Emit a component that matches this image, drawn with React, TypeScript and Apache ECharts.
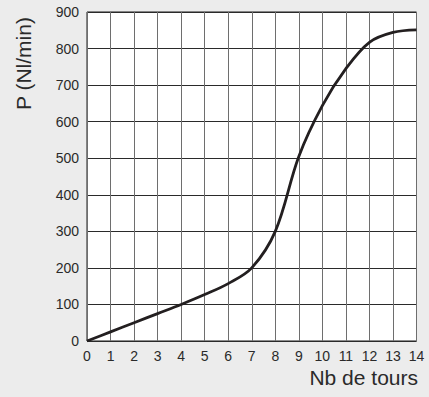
import React, { useEffect, useRef } from "react";
import * as echarts from "echarts";

const xTicks = [0, 1, 2, 3, 4, 5, 6, 7, 8, 9, 10, 11, 12, 13, 14];
const turns = [0, 1, 2, 3, 4, 5, 6, 7, 8, 9, 10, 11, 12, 13, 14];
const flow = [0, 25, 50, 75, 100, 127, 157, 200, 300, 505, 644, 745, 817, 844, 851];

export default function App() {
  const ref = useRef<HTMLDivElement>(null);
  useEffect(() => {
    document.body.style.margin = "0";
    const chart = echarts.init(ref.current!, null, { renderer: "svg" });
    const font = "Liberation Sans";
    chart.setOption({
      animation: false,
      backgroundColor: "#ececec",
      grid: {
        left: 87,
        right: 12.5,
        top: 12,
        bottom: 56,
        show: true,
        backgroundColor: "#ffffff",
        borderColor: "#1a1a1a",
        borderWidth: 1,
      },
      xAxis: {
        type: "value",
        min: 0,
        max: 14,
        interval: 1,
        axisLine: { show: false },
        axisTick: { show: false },
        axisLabel: {
          color: "#2a2a2a",
          fontSize: 14,
          fontFamily: font,
          margin: 8,
          formatter: (v: number) => (xTicks.includes(v) ? String(v) : ""),
        },
        splitLine: { show: true, lineStyle: { color: "#6e6e6e", width: 1 } },
      },
      yAxis: {
        type: "value",
        min: 0,
        max: 900,
        interval: 100,
        axisLine: { show: false },
        axisTick: { show: false },
        axisLabel: { color: "#2a2a2a", fontSize: 14, fontFamily: font, margin: 8 },
        splitLine: { show: true, lineStyle: { color: "#2a2a2a", width: 1 } },
      },
      graphic: [
        {
          type: "text",
          right: 11,
          top: 367,
          style: { text: "Nb de tours", fontSize: 21, fontFamily: font, fill: "#2a2a2a" },
        },
        {
          type: "text",
          x: 13,
          y: 110,
          rotation: Math.PI / 2,
          style: { text: "P (Nl/min)", fontSize: 21, fontFamily: font, fill: "#2a2a2a" },
        },
      ],
      series: [
        {
          type: "line",
          data: turns.map((t, i) => [t, flow[i]]),
          smooth: 0.35,
          showSymbol: false,
          lineStyle: { color: "#231f20", width: 2.8 },
        },
      ],
    });
    return () => chart.dispose();
  }, []);
  return <div ref={ref} style={{ width: 429, height: 397, position: "absolute", left: 0, top: 0 }} />;
}
